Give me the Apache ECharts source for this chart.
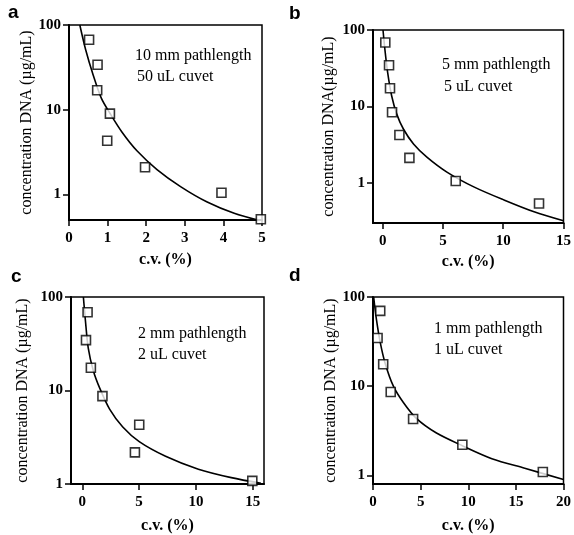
<!DOCTYPE html>
<html><head><meta charset="utf-8">
<script src="https://cdn.jsdelivr.net/npm/echarts@6/dist/echarts.min.js"></script>
<style>html,body{margin:0;padding:0;background:#fff}#c{width:574px;height:535px}</style>
</head><body><div id="c"></div>
<script>
// Panel a: 10 mm pathlength
const aCv = [0.52, 0.74, 0.73, 1.06, 0.99, 1.97, 3.95, 4.97];
const aConc = [67, 34, 17, 9, 4.3, 2.1, 1.05, 0.51];
const aFitCv = [0.28, 0.43, 0.63, 0.84, 1.06, 1.37, 1.76, 2.28, 2.89, 3.58, 4.28, 4.97];
const aFitConc = [100, 51.5, 25.4, 13.6, 9.1, 5.47, 3.28, 1.97, 1.24, 0.815, 0.6, 0.49];
// Panel b: 5 mm pathlength
const bCv = [0.22, 0.53, 0.61, 0.78, 1.39, 2.22, 6.06, 12.97];
const bConc = [68.6, 34.6, 17.3, 8.4, 4.24, 2.13, 1.06, 0.54];
const bFitCv = [0.03, 0.19, 0.42, 0.75, 1.17, 1.72, 2.56, 3.67, 5.33, 7.56, 10.06, 12.56, 15];
const bFitConc = [100, 55, 27.5, 13.7, 7.95, 5.08, 3.24, 2.18, 1.39, 0.89, 0.6, 0.42, 0.32];
// Panel c: 2 mm pathlength
const cCv = [0.46, 0.32, 0.75, 1.77, 5.01, 4.63, 14.97];
const cConc = [68.6, 34.6, 17.5, 8.7, 4.3, 2.18, 1.08];
const cFitCv = [0.09, 0.26, 0.52, 0.96, 1.53, 2.4, 3.56, 5.01, 7.33, 10.22, 13.12, 15.73];
const cFitConc = [100, 57.7, 28.4, 16.4, 10.6, 6.33, 4.07, 2.84, 1.98, 1.44, 1.17, 1.02];
// Panel d: 1 mm pathlength
const dCv = [0.76, 0.48, 1.07, 1.86, 4.21, 9.38, 17.83];
const dConc = [69.9, 34.7, 17.6, 8.6, 4.28, 2.2, 1.09];
const dFitCv = [0.07, 0.34, 0.76, 1.28, 2.14, 3.17, 4.55, 6.62, 9.38, 12.48, 15.93, 20];
const dFitConc = [100, 58, 31, 18, 10, 6.6, 4.35, 3.0, 2.15, 1.54, 1.2, 0.9];

const yTicks = [1, 10, 100];
const xTicksA = [0, 1, 2, 3, 4, 5];
const xTicksB = [0, 5, 10, 15];
const xTicksC = [0, 5, 10, 15];
const xTicksD = [0, 5, 10, 15, 20];
const yNames = ['concentration DNA (\u00b5g/mL)', 'concentration DNA(\u00b5g/mL)', 'concentration DNA (\u00b5g/mL)', 'concentration DNA (\u00b5g/mL)'];
const xName = 'c.v. (%)';
const panelLetters = ['a', 'b', 'c', 'd'];
const noteLine1 = ['10 mm pathlength', '5 mm pathlength', '2 mm pathlength', '1 mm pathlength'];
const noteLine2 = ['50 uL cuvet', '5 uL cuvet', '2 uL cuvet', '1 uL cuvet'];

const SERIF = '"Liberation Serif", "Times New Roman", serif';
const zip = (xs, ys) => xs.map((x, i) => [x, ys[i]]);

const grids = [
  {left: 69, top: 25, width: 193, height: 195},
  {left: 373, top: 30, width: 191, height: 193},
  {left: 71, top: 297, width: 193, height: 193},
  {left: 373, top: 297, width: 193, height: 194}
];
const xRanges = [[0, 5], [-0.8, 15], [-1, 16], [0, 20]];
const yRanges = [[0.5, 100], [0.3, 100], [1, 100], [0.8, 100]];
const yNameGaps = [32, 36, 40, 34];
const xNameGaps = [32, 31, 34, 34];
const xTickSets = [xTicksA, xTicksB, xTicksC, xTicksD];
const pts = [zip(aCv, aConc), zip(bCv, bConc), zip(cCv, cConc), zip(dCv, dConc)];
const fits = [zip(aFitCv, aFitConc), zip(bFitCv, bFitConc), zip(cFitCv, cFitConc), zip(dFitCv, dFitConc)];

const option = {
  backgroundColor: '#fff',
  animation: false,
  grid: grids.map(g => Object.assign({show: true, borderColor: '#000', borderWidth: 1.5, backgroundColor: 'transparent'}, g)),
  xAxis: grids.map((g, i) => ({
    type: 'value', gridIndex: i, min: xRanges[i][0], max: xRanges[i][1],
    name: xName, nameLocation: 'middle', nameGap: xNameGaps[i],
    nameTextStyle: {fontFamily: SERIF, fontWeight: 'bold', fontSize: 16, color: '#000'},
    axisLine: {show: true, onZero: false, lineStyle: {color: '#000', width: 2}},
    axisTick: {show: true, inside: false, length: 6, lineStyle: {color: '#000', width: 1.5}, customValues: xTickSets[i]},
    axisLabel: {fontFamily: SERIF, fontWeight: 'bold', fontSize: 15, color: '#000', margin: 11, customValues: xTickSets[i]},
    splitLine: {show: false}
  })),
  yAxis: grids.map((g, i) => ({
    type: 'log', logBase: 10, gridIndex: i, min: yRanges[i][0], max: yRanges[i][1],
    name: yNames[i], nameLocation: 'middle', nameGap: yNameGaps[i], nameRotate: 90,
    nameTextStyle: {fontFamily: SERIF, fontSize: 16, color: '#000'},
    axisLine: {show: true, onZero: false, lineStyle: {color: '#000', width: 2}},
    axisTick: {show: true, inside: false, length: 6, lineStyle: {color: '#000', width: 1.5}, customValues: yTicks},
    axisLabel: {fontFamily: SERIF, fontWeight: 'bold', fontSize: 15, color: '#000', margin: 8, customValues: yTicks},
    splitLine: {show: false}, minorTick: {show: false}
  })),
  series: [].concat(
    fits.map((f, i) => ({
      type: 'line', xAxisIndex: i, yAxisIndex: i, data: f, showSymbol: false, symbol: 'none',
      smooth: 0.3, clip: true,
      lineStyle: {color: '#000', width: 1.6}, z: 2
    })),
    pts.map((p, i) => ({
      type: 'scatter', xAxisIndex: i, yAxisIndex: i, data: p, symbol: 'rect', symbolSize: 9,
      itemStyle: {color: '#fff', borderColor: '#000', borderWidth: 1.6}, z: 3, clip: false
    }))
  ),
  graphic: [].concat(
    [[8, 13], [289, 14], [11, 277], [289, 276]].map((p, i) => ({
      type: 'text', x: p[0], y: p[1], z: 10,
      style: {text: panelLetters[i], font: 'bold 19px "Liberation Sans", Arial, sans-serif', fill: '#000', verticalAlign: 'middle'}
    })),
    [[135, 56], [442, 65], [138, 334], [434, 329]].map((p, i) => ({
      type: 'text', x: p[0], y: p[1], z: 10,
      style: {text: noteLine1[i], font: '16px ' + SERIF, fill: '#000', verticalAlign: 'middle'}
    })),
    [[137, 77], [444, 87], [138, 355], [434, 350]].map((p, i) => ({
      type: 'text', x: p[0], y: p[1], z: 10,
      style: {text: noteLine2[i], font: '16px ' + SERIF, fill: '#000', verticalAlign: 'middle'}
    }))
  )
};
const chart = echarts.init(document.getElementById('c'), null, {renderer: 'canvas', width: 574, height: 535});
chart.setOption(option);
</script></body></html>
